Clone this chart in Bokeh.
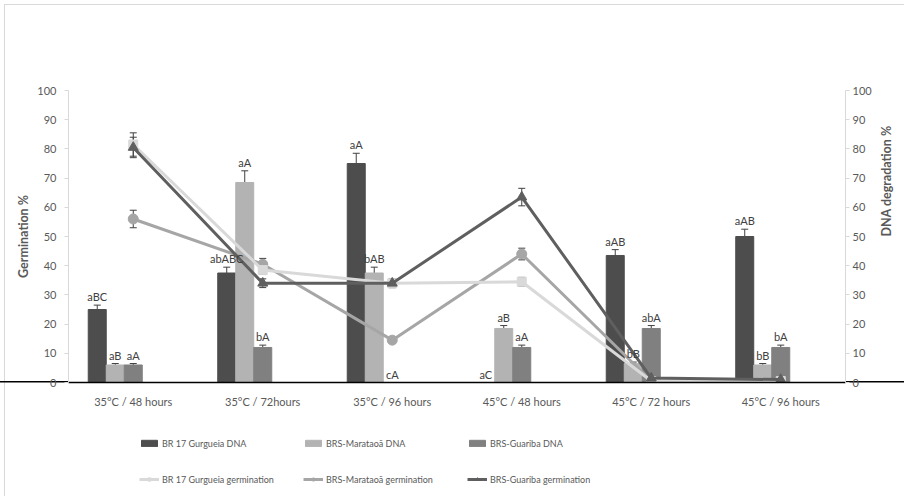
import numpy as np
from bokeh.plotting import figure
from bokeh.layouts import column
from bokeh.models import (Range1d, LinearAxis, FixedTicker, Whisker, ColumnDataSource,
                          Legend, LegendItem, TeeHead)
from bokeh.embed import file_html
from bokeh.resources import INLINE
from bokeh.core.properties import value

# ---------------- data ----------------
categories = ["35°C / 48 hours", "35°C / 72hours", "35°C / 96 hours",
              "45°C / 48 hours", "45°C / 72 hours", "45°C / 96 hours"]

gurgueia_dna = [25, 37.5, 75, 0, 43.5, 50]
gurgueia_dna_err = [1.5, 2, 3.5, 0, 2, 2.5]
gurgueia_dna_lbl = ["aBC", "abABC", "aA", "aC", "aAB", "aAB"]

marataoa_dna = [6, 68.5, 37.5, 18.5, 6.5, 6]
marataoa_dna_err = [0.5, 4, 2, 1, 0.5, 0.5]
marataoa_dna_lbl = ["aB", "aA", "bAB", "aB", "bB", "bB"]

guariba_dna = [6, 12, 0, 12, 18.5, 12]
guariba_dna_err = [0.5, 0.8, 0, 0.8, 1, 0.8]
guariba_dna_lbl = ["aA", "bA", "cA", "aA", "abA", "bA"]

gurgueia_germ = [81.5, 38.5, 34, 34.5, 0.5, 0.5]
gurgueia_germ_err = [4, 1.5, 1.5, 1.5, 0.5, 0.5]
marataoa_germ = [56, 40.5, 14.5, 44, 0.5, 0.5]
marataoa_germ_err = [3, 2, 1, 2, 0.5, 0.5]
guariba_germ = [80.5, 34, 34, 63.5, 1.5, 1]
guariba_germ_err = [3.5, 1.5, 1.5, 3, 0.5, 0.5]

y_ticks = list(range(0, 101, 10))

legend_labels = ["BR 17 Gurgueia DNA", "BRS-Marataoã DNA", "BRS-Guariba DNA",
                 "BR 17 Gurgueia germination", "BRS-Marataoã germination",
                 "BRS-Guariba germination"]

# ---------------- style ----------------
FONT = "Lato"
TXT = "#595959"
AXC = "#d9d9d9"
C_GURG_DNA, C_MAR_DNA, C_GUA_DNA = "#4d4d4d", "#b3b3b3", "#808080"
C_GURG_G, C_MAR_G, C_GUA_G = "#d9d9d9", "#a6a6a6", "#5f5f5f"
BAR_W = 0.139
ERR_C = "#404040"

W, H1, H2 = 904, 410, 86
p = figure(width=W, height=H1, output_backend="svg", toolbar_location=None,
           x_range=Range1d(-0.5, 5.5), y_range=Range1d(0, 100),
           min_border_left=68, min_border_right=58, min_border_top=90,
           min_border_bottom=H1 - 382)
p.outline_line_color = None
p.grid.visible = False
p.background_fill_color = "white"
p.border_fill_color = None
# full-width black baseline and the light outer border of the original picture
p.styles = {
    "background": (
        "linear-gradient(#000,#000) 0px 381px / 100% 1.5px no-repeat, "
        "linear-gradient(#d9d9d9,#d9d9d9) 4px 4px / 100% 1px no-repeat, "
        "linear-gradient(#d9d9d9,#d9d9d9) 4px 4px / 1px 100% no-repeat, white"
    )
}
p.extra_y_ranges = {"right": Range1d(0, 100)}

idx = np.arange(len(categories))

# x axis
xa = p.xaxis[0]
xa.ticker = FixedTicker(ticks=list(idx))
xa.major_label_overrides = {int(i): c for i, c in enumerate(categories)}
xa.major_tick_line_color = None
xa.minor_tick_line_color = None
xa.axis_line_color = "black"
xa.axis_line_width = 1.5
xa.major_label_text_font = FONT
xa.major_label_text_font_size = "11px"
xa.major_label_text_color = TXT
xa.major_label_standoff = 6


def style_y(ax):
    ax.axis_line_color = AXC
    ax.major_tick_line_color = AXC
    ax.minor_tick_line_color = None
    ax.major_tick_in = 0
    ax.major_tick_out = 4
    ax.major_label_text_font = FONT
    ax.major_label_text_font_size = "11px"
    ax.major_label_text_color = TXT
    ax.axis_label_text_font = FONT
    ax.axis_label_text_font_size = "12.5px"
    ax.axis_label_text_font_style = "bold"
    ax.axis_label_text_color = TXT


ya = p.yaxis[0]
ya.ticker = FixedTicker(ticks=y_ticks)
ya.axis_label = "Germination %"
style_y(ya)
ya.major_label_standoff = 8
ya.axis_label_standoff = 3

ra = LinearAxis(y_range_name="right", ticker=FixedTicker(ticks=y_ticks),
                axis_label="DNA degradation %")
style_y(ra)
ra.major_label_standoff = 3
ra.axis_label_standoff = 12
try:
    ra.axis_label_orientation = float(np.pi / 2)
except Exception:
    pass
p.add_layout(ra, "right")

# ---------------- bars ----------------
bar_specs = [
    (gurgueia_dna, gurgueia_dna_err, gurgueia_dna_lbl, -2 * BAR_W, C_GURG_DNA),
    (marataoa_dna, marataoa_dna_err, marataoa_dna_lbl, -1 * BAR_W, C_MAR_DNA),
    (guariba_dna, guariba_dna_err, guariba_dna_lbl, 0.0, C_GUA_DNA),
]
bar_sources = []
for vals, errs, lbls, off, col in bar_specs:
    vals = np.array(vals, dtype=float)
    errs = np.array(errs, dtype=float)
    src = ColumnDataSource(dict(x=idx + off, top=vals, lab_y=vals + errs, lbl=lbls))
    p.vbar(x="x", top="top", width=BAR_W, bottom=0, source=src,
           fill_color=col, line_color=col)
    bar_sources.append((src, vals, errs, off))

for src, vals, errs, off in bar_sources:
    mask = errs > 0
    wsrc = ColumnDataSource(dict(x=(idx + off)[mask], upper=(vals + errs)[mask],
                                 lower=(vals - errs)[mask]))
    p.add_layout(Whisker(source=wsrc, base="x", upper="upper", lower="lower",
                         line_color=ERR_C, line_width=1,
                         upper_head=TeeHead(size=7, line_color=ERR_C, line_width=1),
                         lower_head=TeeHead(size=7, line_color=ERR_C, line_width=1)))

# ---------------- lines ----------------
line_specs = [
    (marataoa_germ, marataoa_germ_err, C_MAR_G, "circle", 10),
    (gurgueia_germ, gurgueia_germ_err, C_GURG_G, "square", 9),
    (guariba_germ, guariba_germ_err, C_GUA_G, "triangle", 10),
]
for vals, errs, col, mk, sz in line_specs:
    vals = np.array(vals, dtype=float)
    errs = np.array(errs, dtype=float)
    src = ColumnDataSource(dict(x=idx, y=vals, upper=vals + errs, lower=vals - errs))
    p.line(x="x", y="y", source=src, line_color=col, line_width=3)
    p.scatter(x="x", y="y", source=src, marker=mk, size=sz,
              fill_color=col, line_color=col)
    p.add_layout(Whisker(source=src, base="x", upper="upper", lower="lower",
                         line_color=ERR_C, line_width=1,
                         upper_head=TeeHead(size=7, line_color=ERR_C, line_width=1),
                         lower_head=TeeHead(size=7, line_color=ERR_C, line_width=1)))

# bar letters on top of everything
for src, vals, errs, off in bar_sources:
    p.text(x="x", y="lab_y", text="lbl", source=src, text_align="center",
           text_baseline="bottom", y_offset=-2, text_font=value(FONT),
           text_font_size="11px", text_color="#404040")

# ---------------- legend (separate strip under the chart) ----------------
# the strip's ranges lie away from the data, so its renderers only feed the legend
p2 = figure(width=W, height=H2, output_backend="svg", toolbar_location=None,
            x_range=Range1d(100, 101), y_range=Range1d(1000, 1001),
            x_axis_type=None, y_axis_type=None, min_border=0)
p2.outline_line_color = None
p2.grid.visible = False
p2.border_fill_color = None
p2.background_fill_color = None
p2.styles = {
    "background": "linear-gradient(#d9d9d9,#d9d9d9) 4px 0px / 1px 100% no-repeat, white"
}
proxies = []
for vals, col in [(gurgueia_dna, C_GURG_DNA), (marataoa_dna, C_MAR_DNA), (guariba_dna, C_GUA_DNA)]:
    proxies.append([p2.vbar(x=idx, top=vals, width=BAR_W, fill_color=col, line_color=col)])
for vals, col, mk in [(gurgueia_germ, C_GURG_G, "square"), (marataoa_germ, C_MAR_G, "circle"),
                      (guariba_germ, C_GUA_G, "triangle")]:
    proxies.append([p2.line(x=idx, y=vals, line_color=col, line_width=3),
                    p2.scatter(x=idx, y=vals, marker=mk, size=8, fill_color=col, line_color=col)])

items = [LegendItem(label=lab, renderers=r) for lab, r in zip(legend_labels, proxies)]
legend = Legend(items=items, location=(71, H2 - 79), orientation="horizontal", ncols=3,
                glyph_width=20, glyph_height=8, label_standoff=3, label_width=125,
                label_height=20, spacing=16, padding=0, margin=0,
                border_line_color=None, background_fill_alpha=0,
                label_text_font=FONT, label_text_font_size="9px",
                label_text_color=TXT)
p2.add_layout(legend, "center")

layout = column(p, p2, spacing=0)
open("out.html", "w").write(file_html(layout, INLINE))
